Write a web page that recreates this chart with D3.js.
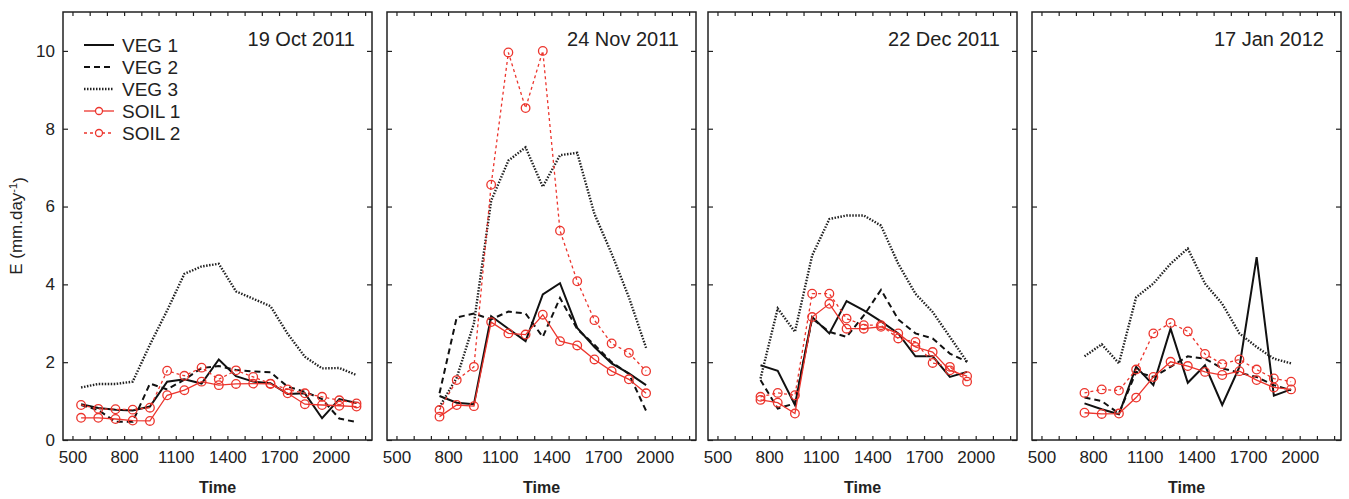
<!DOCTYPE html>
<html>
<head>
<meta charset="utf-8">
<script src="https://cdn.jsdelivr.net/npm/d3@7"></script>
<style>
  body { margin: 0; background: #fff; }
  svg { display: block; font-family: "Liberation Sans", Arial, sans-serif; }
</style>
</head>
<body>
<div id="chart"></div>
<script>
// Data
const panelTitles = ["19 Oct 2011", "24 Nov 2011", "22 Dec 2011", "17 Jan 2012"];
const timesOct = [550, 650, 750, 850, 950, 1050, 1150, 1250, 1350, 1450, 1550, 1650, 1750, 1850, 1950, 2050, 2150];
const timesLater = [750, 850, 950, 1050, 1150, 1250, 1350, 1450, 1550, 1650, 1750, 1850, 1950];
const xTicks = [500, 600, 700, 800, 900, 1000, 1100, 1200, 1300, 1400, 1500, 1600, 1700, 1800, 1900, 2000, 2100, 2200];
const xLabels = [500, 800, 1100, 1400, 1700, 2000];
const yTicks = [0, 2, 4, 6, 8, 10];

// one row per panel
const veg1 = [
    [0.92, 0.82, 0.78, 0.76, 0.86, 1.5, 1.56, 1.45, 2.07, 1.64, 1.5, 1.46, 1.18, 1.2, 0.56, 1.05, 0.95],
    [1.13, 0.96, 0.92, 3.18, 2.86, 2.54, 3.74, 4.03, 2.88, 2.39, 1.97, 1.71, 1.41],
    [1.92, 1.78, 0.9, 3.16, 2.74, 3.57, 3.33, 3.05, 2.74, 2.15, 2.15, 1.62, 1.75],
    [0.94, 0.79, 0.66, 1.88, 1.41, 2.86, 1.47, 1.92, 0.9, 1.88, 4.7, 1.14, 1.3]
];
const veg2 = [
    [0.9, 0.77, 0.47, 0.47, 1.45, 1.3, 1.55, 1.85, 1.9, 1.8, 1.76, 1.74, 1.37, 1.24, 1.05, 0.55, 0.46],
    [1.2, 3.15, 3.25, 3.1, 3.3, 3.25, 2.65, 3.65, 2.85, 2.45, 2.0, 1.7, 0.75],
    [1.54, 0.81, 0.94, 3.12, 2.78, 2.65, 3.2, 3.86, 3.1, 2.74, 2.61, 2.22, 2.01],
    [1.09, 1.0, 0.68, 1.75, 1.62, 1.88, 2.15, 2.09, 1.84, 1.73, 1.62, 1.41, 1.28]
];
const veg3 = [
    [1.35, 1.44, 1.44, 1.5, 2.45, 3.33, 4.27, 4.46, 4.53, 3.82, 3.63, 3.44, 2.73, 2.14, 1.84, 1.85, 1.67],
    [0.85, 1.6, 3.0, 6.15, 7.18, 7.52, 6.51, 7.32, 7.38, 5.81, 4.79, 3.67, 2.37],
    [1.58, 3.38, 2.78, 4.74, 5.68, 5.77, 5.77, 5.51, 4.53, 3.76, 3.29, 2.65, 2.01],
    [2.15, 2.46, 1.97, 3.67, 4.02, 4.53, 4.92, 4.02, 3.5, 2.74, 2.39, 2.09, 1.97]
];
const soil1 = [
    [0.57, 0.57, 0.54, 0.5, 0.49, 1.15, 1.28, 1.5, 1.41, 1.44, 1.45, 1.44, 1.2, 0.92, 0.9, 0.88, 0.86],
    [0.6, 0.9, 0.87, 3.03, 2.74, 2.71, 3.22, 2.54, 2.43, 2.07, 1.77, 1.56, 1.2],
    [1.03, 0.96, 0.68, 3.16, 3.5, 2.86, 2.86, 2.91, 2.74, 2.39, 2.26, 1.79, 1.64],
    [0.7, 0.67, 0.68, 1.09, 1.62, 2.01, 1.9, 1.75, 1.67, 1.77, 1.54, 1.35, 1.3]
];
const soil2 = [
    [0.9, 0.8, 0.79, 0.78, 0.83, 1.78, 1.65, 1.86, 1.56, 1.79, 1.62, 1.45, 1.3, 1.2, 1.11, 1.02, 0.94],
    [0.77, 1.54, 1.88, 6.56, 9.96, 8.53, 10.0, 5.38, 4.08, 3.08, 2.48, 2.24, 1.77],
    [1.11, 1.21, 1.15, 3.76, 3.76, 3.12, 2.95, 2.95, 2.61, 2.52, 1.98, 1.88, 1.5],
    [1.21, 1.3, 1.27, 1.81, 2.74, 3.01, 2.79, 2.21, 1.95, 2.07, 1.81, 1.58, 1.5]
];

const red = "#ec352d";
const series = [
    { name: "VEG 1", values: veg1, color: "#111", width: 2, dash: null, marker: false },
    { name: "VEG 2", values: veg2, color: "#111", width: 2, dash: "6,4", marker: false },
    { name: "VEG 3", values: veg3, color: "#222", width: 2.4, dash: "1.5,1.5", marker: false },
    { name: "SOIL 1", values: soil1, color: red, width: 1.3, dash: null, marker: true },
    { name: "SOIL 2", values: soil2, color: red, width: 1.3, dash: "3,3", marker: true }
];

// Layout
const width = 1349, height = 499;
const panelLeft = [63, 387, 708, 1032];
const panelW = 309, plotTop = 12, panelH = 428;

const svg = d3.select("#chart").append("svg")
    .attr("width", width)
    .attr("height", height);

const x = d3.scaleLinear().domain([445, 2240]).range([0, panelW]);
const y = d3.scaleLinear().domain([0, 11]).range([panelH, 0]);

panelTitles.forEach((title, i) => {
    const times = i === 0 ? timesOct : timesLater;
    const g = svg.append("g").attr("transform", `translate(${panelLeft[i]},${plotTop})`);

    // axes with inward ticks
    const fmt = d => xLabels.includes(d) ? d : "";
    g.append("g").attr("transform", `translate(0,${panelH})`)
        .call(d3.axisBottom(x).tickValues(xTicks).tickSize(-4).tickPadding(11).tickFormat(fmt));
    g.append("g")
        .call(d3.axisTop(x).tickValues(xTicks).tickSize(-4).tickFormat(""));
    g.append("g")
        .call(d3.axisLeft(y).tickValues(yTicks).tickSize(-5).tickPadding(8).tickFormat(i === 0 ? d3.format("d") : ""));
    g.append("g").attr("transform", `translate(${panelW},0)`)
        .call(d3.axisRight(y).tickValues(yTicks).tickSize(-5).tickFormat(""));

    g.selectAll(".domain").remove();
    g.selectAll(".tick line").attr("stroke", "#222").attr("stroke-width", 1.2);
    g.selectAll(".tick text").attr("fill", "#222").style("font-size", "17px")
        .style("font-family", "'Liberation Sans', Arial, sans-serif");

    g.append("rect")
        .attr("width", panelW)
        .attr("height", panelH)
        .attr("fill", "none")
        .attr("stroke", "#222")
        .attr("stroke-width", 1.5);

    // lines
    series.forEach(s => {
        const pts = times.map((t, k) => [t, s.values[i][k]]);
        g.append("path")
            .datum(pts)
            .attr("fill", "none")
            .attr("stroke", s.color)
            .attr("stroke-width", s.width)
            .attr("stroke-dasharray", s.dash)
            .attr("d", d3.line().x(d => x(d[0])).y(d => y(d[1])));
        if (s.marker) {
            g.append("g").selectAll("circle")
                .data(pts)
                .join("circle")
                .attr("cx", d => x(d[0]))
                .attr("cy", d => y(d[1]))
                .attr("r", 4.3)
                .attr("fill", "none")
                .attr("stroke", s.color)
                .attr("stroke-width", 1.3);
        }
    });

    // panel title
    g.append("text")
        .attr("x", panelW - 17)
        .attr("y", 34)
        .attr("text-anchor", "end")
        .attr("fill", "#222")
        .style("font-size", "20px")
        .text(title);

    // x label
    g.append("text")
        .attr("x", panelW / 2)
        .attr("y", 481)
        .attr("text-anchor", "middle")
        .attr("fill", "#222")
        .style("font-size", "16px")
        .style("font-weight", "bold")
        .text("Time");

    // legend in first panel
    if (i === 0) {
        const lg = g.append("g").attr("transform", "translate(21,33)");
        series.forEach((s, k) => {
            const row = lg.append("g").attr("transform", `translate(0,${k * 22})`);
            row.append("line")
                .attr("x1", 0).attr("x2", 30)
                .attr("stroke", s.color)
                .attr("stroke-width", s.width)
                .attr("stroke-dasharray", s.dash);
            if (s.marker) {
                row.append("circle")
                    .attr("cx", 15).attr("r", 3.5)
                    .attr("fill", "#fff")
                    .attr("stroke", s.color)
                    .attr("stroke-width", 1.3);
            }
            row.append("text")
                .attr("x", 38)
                .attr("dy", "0.35em")
                .attr("fill", "#222")
                .style("font-size", "19px")
                .text(s.name);
        });
    }
});

// y label
const yLabel = svg.append("text")
    .attr("transform", `translate(22,${plotTop + panelH / 2}) rotate(-90)`)
    .attr("text-anchor", "middle")
    .attr("fill", "#222")
    .style("font-size", "17px");
yLabel.append("tspan").text("E (mm.day");
yLabel.append("tspan").attr("dy", "-0.5em").style("font-size", "11px").text("-1");
yLabel.append("tspan").attr("dy", "0.5em").text(")");
</script>
</body>
</html>
